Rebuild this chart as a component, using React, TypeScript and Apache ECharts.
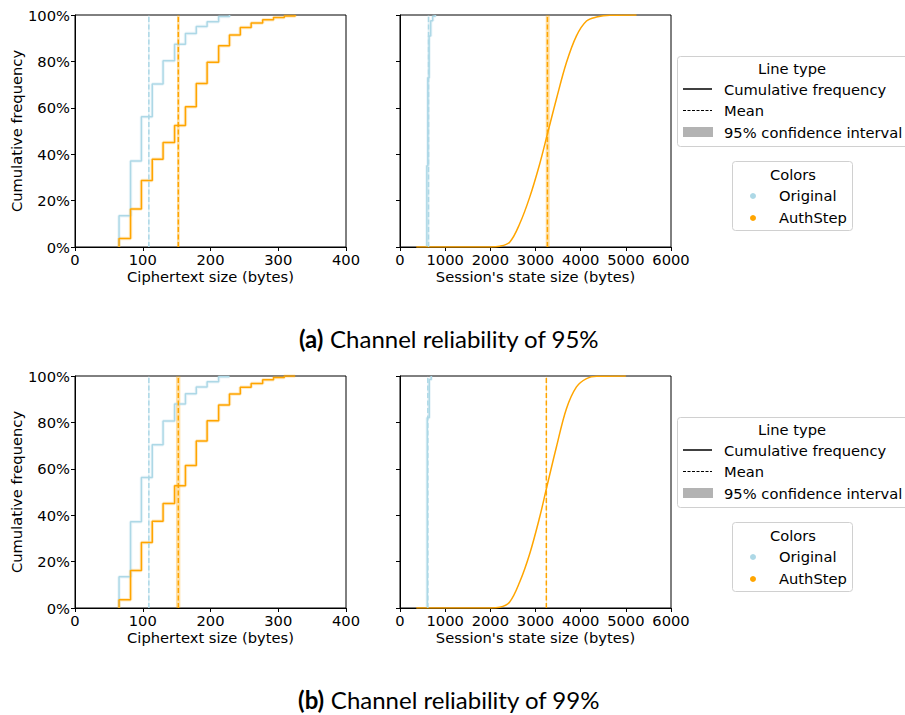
import React, { useEffect, useRef } from "react";
import * as echarts from "echarts";

// ---------- data ----------
// Ciphertext size ECDF step edges (bytes)
const ctEdges = [65, 82, 98, 114, 130, 147, 163, 179, 195, 212, 228, 244, 260, 277, 293, 309, 325];
const ctOriginalA = [13.5, 37.1, 56.1, 70.3, 80.3, 87.4, 92.0, 95.0, 97.1, 99.3, 100];
const ctAuthA = [3.7, 16.4, 28.7, 37.8, 45.0, 52.4, 60.4, 70.5, 79.6, 86.7, 91.4, 94.6, 96.6, 97.9, 98.9, 99.6, 100];
const ctOriginalB = [13.5, 37.2, 56.2, 70.4, 80.6, 87.9, 92.3, 95.3, 97.5, 99.7, 100];
const ctAuthB = [3.6, 16.2, 28.2, 37.4, 45.0, 52.7, 61.4, 72.0, 80.7, 87.5, 92.2, 95.1, 96.8, 98.4, 99.4, 100, 100];

// Session state size, Original ECDF steps
const ssOrigEdgesA = [594, 616, 645, 680, 725, 780];
const ssOrigA = [35, 73, 91, 97.5, 99.5, 100];
const ssOrigEdgesB = [603, 647, 691];
const ssOrigB = [82, 98.5, 100];

// Session state size, AuthStep ECDF (dense, read as a curve)
const ssAuthXA = [360, 2000, 2206, 2428, 2650, 2872, 3093, 3264, 3463, 3685, 3907, 4129, 4350, 4645, 5236];
const ssAuthA = [0, 0, 0.3, 2.1, 10, 21.5, 35.8, 48.7, 63.8, 79.5, 91, 97.4, 99.1, 99.9, 100];
const ssAuthXB = [360, 2000, 2206, 2428, 2650, 2872, 3093, 3241, 3463, 3685, 3907, 4129, 4350, 5000];
const ssAuthB = [0, 0, 0.3, 2.6, 11.2, 23.4, 39.2, 51.4, 69.4, 85.9, 95.3, 98.9, 99.9, 100];

// means and 95% CI [mean, lo, hi]
const ctMeanOrigA = [109, 108, 110];
const ctMeanAuthA = [152.5, 150.5, 154.5];
const ctMeanOrigB = [109, 108, 110];
const ctMeanAuthB = [152.5, 149, 155.5];
const ssMeanOrigA = [632, 612, 652];
const ssMeanAuthA = [3264, 3226, 3315];
const ssMeanOrigB = [616, 610, 622];
const ssMeanAuthB = [3240, 3232, 3248];

const yTicks = [0, 20, 40, 60, 80, 100];
const captions = ["(a)", "(b)"];
const captionTexts = ["Channel reliability of 95%", "Channel reliability of 99%"];

// ---------- styling ----------
const BLUE = "#add8e6";
const ORANGE = "#ffa500";
const FONT = "DejaVu Sans";
const FS = 14.7;

function stepData(edges: number[], vals: number[]) {
  const d: number[][] = [[edges[0], 0]];
  edges.forEach((e, i) => {
    if (i < vals.length) d.push([e, vals[i]]);
  });
  return d;
}

function stepSeries(idx: number, data: number[][], color: string) {
  return [
    {
      type: "line", xAxisIndex: idx, yAxisIndex: idx, step: "end", data, symbol: "none",
      lineStyle: { color, width: 3.5, opacity: 0.22 }, silent: true, z: 2,
    },
    {
      type: "line", xAxisIndex: idx, yAxisIndex: idx, step: "end", data, symbol: "none",
      lineStyle: { color, width: 1.5 }, silent: true, z: 3,
    },
  ];
}

function curveSeries(idx: number, xs: number[], ys: number[], color: string) {
  return [
    {
      type: "line", xAxisIndex: idx, yAxisIndex: idx, smooth: 0.35,
      data: xs.map((x, i) => [x, ys[i]]), symbol: "none",
      lineStyle: { color, width: 1.5 }, silent: true, z: 3,
    },
  ];
}

function meanSeries(idx: number, m: number[], color: string) {
  return {
    type: "line", xAxisIndex: idx, yAxisIndex: idx, data: [[m[0], 0], [m[0], 100]], symbol: "none",
    lineStyle: { color, width: 1.5, type: [5, 2.5] }, silent: true, z: 4,
    markArea: {
      silent: true,
      itemStyle: { color, opacity: 0.35 },
      data: [[{ xAxis: m[1] }, { xAxis: m[2] }]],
    },
  };
}

const GRIDS = [
  { left: 75, top: 15 },
  { left: 400, top: 15 },
  { left: 75, top: 376 },
  { left: 400, top: 376 },
];

function xAxisFor(i: number) {
  const left = i % 2 === 0;
  return {
    gridIndex: i, type: "value",
    min: 0, max: left ? 400 : 6000, interval: left ? 100 : 1000,
    axisLine: { show: true, onZero: false, lineStyle: { color: "#000", width: 1 } },
    axisTick: { show: true, inside: false, length: 4, lineStyle: { color: "#000" } },
    axisLabel: { color: "#000", fontSize: FS, fontFamily: FONT, margin: 5, formatter: (v: number) => String(v) },
    splitLine: { show: false },
    name: left ? "Ciphertext size (bytes)" : "Session's state size (bytes)",
    nameLocation: "middle", nameGap: 22,
    nameTextStyle: { color: "#000", fontSize: FS, fontFamily: FONT },
  };
}

function yAxisFor(i: number) {
  const left = i % 2 === 0;
  return {
    gridIndex: i, type: "value", min: yTicks[0], max: yTicks[yTicks.length - 1], interval: 20,
    axisLine: { show: true, onZero: false, lineStyle: { color: "#000", width: 1 } },
    axisTick: { show: true, inside: false, length: 4, lineStyle: { color: "#000" } },
    axisLabel: { show: left, color: "#000", fontSize: FS, fontFamily: FONT, margin: 5, formatter: "{value}%" },
    splitLine: { show: false },
    name: left ? "Cumulative frequency" : "",
    nameLocation: "middle", nameGap: 51, nameRotate: 90,
    nameTextStyle: { color: "#000", fontSize: FS, fontFamily: FONT },
  };
}

function legendGraphics(dy: number) {
  const t = (text: string, x: number, y: number, align = "left") => ({
    type: "text", x, y: y + dy,
    style: { text, fill: "#000", font: `${FS}px "${FONT}"`, textAlign: align, textVerticalAlign: "middle" },
    z: 10,
  });
  return [
    {
      type: "rect", shape: { x: 677.5, y: 56.5 + dy, width: 240, height: 90, r: 3 },
      style: { fill: "#fff", stroke: "#d0d0d0", lineWidth: 1 }, z: 9,
    },
    t("Line type", 792, 68, "center"),
    { type: "line", shape: { x1: 683, y1: 89 + dy, x2: 712, y2: 89 + dy }, style: { stroke: "#000", lineWidth: 1.5 }, z: 10 },
    t("Cumulative frequency", 724, 89),
    { type: "line", shape: { x1: 683, y1: 110.5 + dy, x2: 712, y2: 110.5 + dy }, style: { stroke: "#000", lineWidth: 1.2, lineDash: [3, 1.5] }, z: 10 },
    t("Mean", 724, 110.5),
    { type: "rect", shape: { x: 683, y: 127 + dy, width: 30, height: 10 }, style: { fill: "#b3b3b3" }, z: 10 },
    t("95% confidence interval", 724, 132),
    {
      type: "rect", shape: { x: 732.5, y: 161.5 + dy, width: 120, height: 69, r: 3 },
      style: { fill: "#fff", stroke: "#d0d0d0", lineWidth: 1 }, z: 9,
    },
    t("Colors", 793, 174, "center"),
    { type: "circle", shape: { cx: 753, cy: 196 + dy, r: 3 }, style: { fill: BLUE }, z: 10 },
    t("Original", 779, 195.5),
    { type: "circle", shape: { cx: 753, cy: 218 + dy, r: 3 }, style: { fill: ORANGE }, z: 10 },
    t("AuthStep", 779, 217.5),
  ];
}

export default function App() {
  const ref = useRef<HTMLDivElement>(null);
  useEffect(() => {
    document.body.style.margin = "0";
    if (!ref.current) return;
    const chart = echarts.init(ref.current, undefined, { renderer: "svg" });

    const series: any[] = [
      // (a) left
      ...stepSeries(0, stepData(ctEdges, ctOriginalA), BLUE),
      ...stepSeries(0, stepData(ctEdges, ctAuthA), ORANGE),
      meanSeries(0, ctMeanOrigA, BLUE),
      meanSeries(0, ctMeanAuthA, ORANGE),
      // (a) right
      ...stepSeries(1, stepData(ssOrigEdgesA, ssOrigA), BLUE),
      ...curveSeries(1, ssAuthXA, ssAuthA, ORANGE),
      meanSeries(1, ssMeanOrigA, BLUE),
      meanSeries(1, ssMeanAuthA, ORANGE),
      // (b) left
      ...stepSeries(2, stepData(ctEdges, ctOriginalB), BLUE),
      ...stepSeries(2, stepData(ctEdges, ctAuthB), ORANGE),
      meanSeries(2, ctMeanOrigB, BLUE),
      meanSeries(2, ctMeanAuthB, ORANGE),
      // (b) right
      ...stepSeries(3, stepData(ssOrigEdgesB, ssOrigB), BLUE),
      ...curveSeries(3, ssAuthXB, ssAuthB, ORANGE),
      meanSeries(3, ssMeanOrigB, BLUE),
      meanSeries(3, ssMeanAuthB, ORANGE),
    ];

    const caption = (i: number, y: number) => ({
      type: "text", x: 449, y,
      style: {
        text: `{b|${captions[i]}} ${captionTexts[i]}`,
        rich: { b: { fontWeight: "bold", fontSize: 24, fontFamily: "Lato", fill: "#000" } },
        font: `24px "Lato"`, fill: "#000", textAlign: "center", textVerticalAlign: "middle",
      },
    });

    chart.setOption({
      animation: false,
      backgroundColor: "#fff",
      grid: GRIDS.map((g) => ({
        left: g.left, top: g.top, width: 271, height: 232,
        show: true, borderColor: "#000", borderWidth: 1, backgroundColor: "transparent",
      })),
      xAxis: [0, 1, 2, 3].map(xAxisFor),
      yAxis: [0, 1, 2, 3].map(yAxisFor),
      series,
      graphic: [...legendGraphics(0), ...legendGraphics(361), caption(0, 338), caption(1, 699)],
    });
    return () => chart.dispose();
  }, []);
  return <div ref={ref} style={{ width: 905, height: 715 }} />;
}
